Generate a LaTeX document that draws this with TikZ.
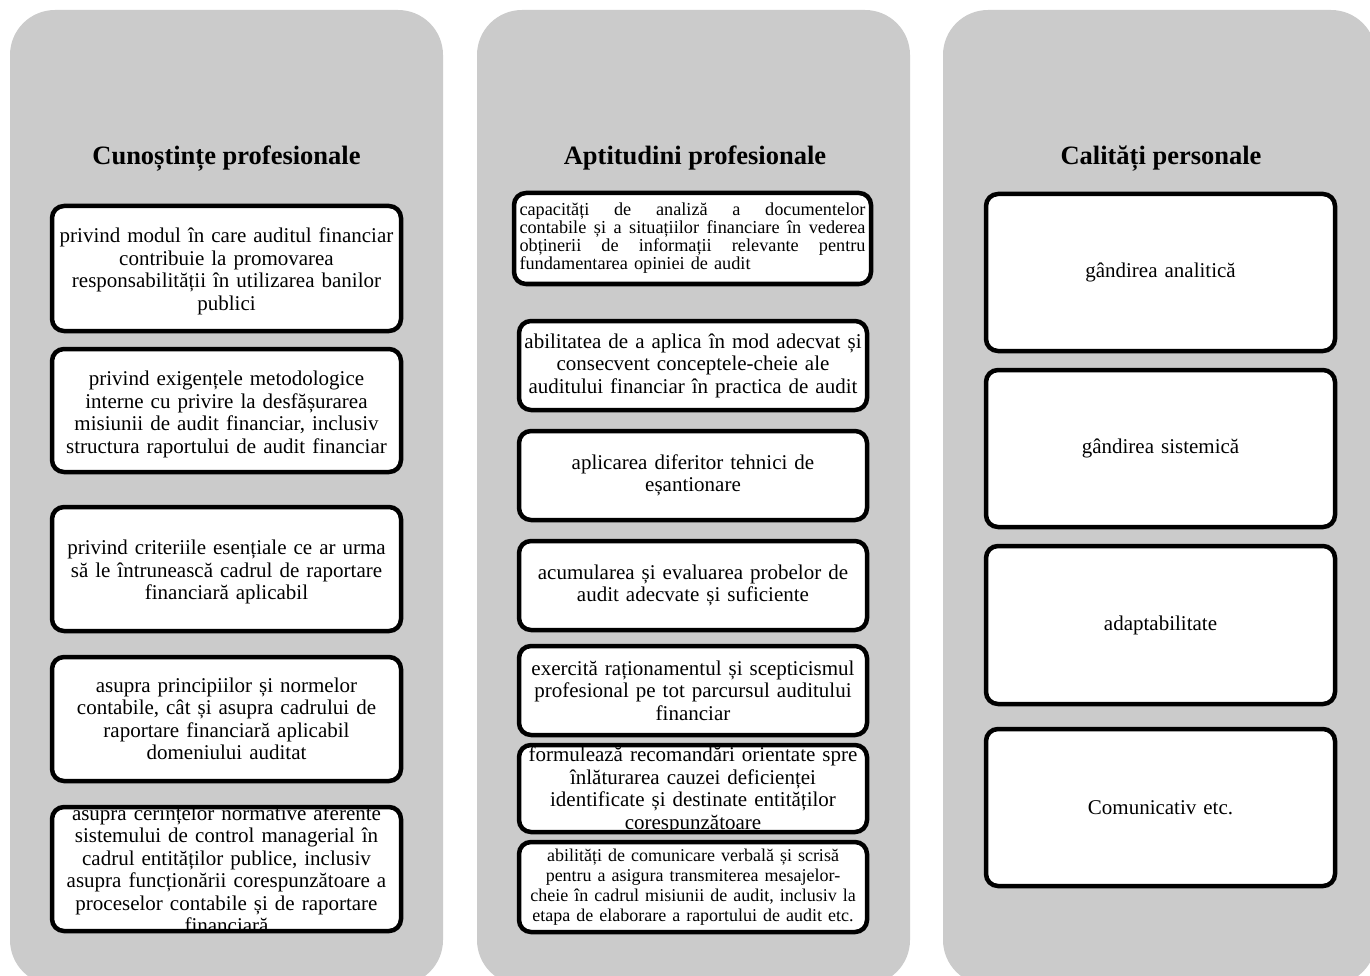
\documentclass[tikz,border=0pt]{standalone}
\usepackage{fontspec}
\setmainfont{Liberation Serif}
\definecolor{panelgray}{RGB}{203,203,203}
\tikzset{
  panel/.style={fill=panelgray, rounded corners=45pt},
  cellbg/.style={fill=white, inner sep=0pt, outer sep=0pt, rounded corners=12pt},
  cellline/.style={draw=black, line width=4.5pt, rounded corners=12pt},
  head/.style={font=\fontsize{26.5}{30}\selectfont\bfseries, anchor=base, inner sep=0pt},
  body/.style={font=\fontsize{21}{22.5}\selectfont, align=center, text width=390pt, inner sep=0pt},
  small/.style={font=\fontsize{18}{20}\selectfont, align=center, text width=390pt, inner sep=0pt},
  tight/.style={font=\fontsize{18.25}{18}\selectfont, align=left, text width=346pt, inner sep=0pt},
}
% #1 name, #2 centre, #3 width, #4 height, #5 text style, #6 text
\newcommand\Cell[6]{%
  \node[cellbg, minimum width=#3, minimum height=#4] (#1) at (#2) {};
  \node[#5] (#1t) at (#1) {#6};
  \draw[cellline] (#1.north west) rectangle (#1.south east);
}
% a fully justified line of the narrow paragraph
\newcommand\jline[1]{\leavevmode\hbox to 346pt{#1}}
\begin{document}
\begin{tikzpicture}[x=1pt,y=-1pt]
\useasboundingbox (0,0) rectangle (1370,976);
\clip (0,0) rectangle (1370,976);

% three grey columns
\path[panel] (10,10) rectangle (443,985);
\path[panel] (477,10) rectangle (910,985);
\path[panel] (943,10) rectangle (1376,985);

% column headings
\node[head] (h1) at (226.5,165) {Cunoștințe profesionale};
\node[head] (h2) at (695,165) {Aptitudini profesionale};
\node[head] (h3) at (1161,165) {Calități personale};

% first column
\Cell{k1}{226.5,268.5}{349pt}{125pt}{body, yshift=-3pt}{privind modul în care auditul financiar\\ contribuie la promovarea\\ responsabilității în utilizarea banilor\\ publici}
\Cell{k2}{226.5,410.5}{349pt}{123pt}{body, yshift=-4pt}{privind exigențele metodologice\\ interne cu privire la desfășurarea\\ misiunii de audit financiar, inclusiv\\ structura raportului de audit financiar}
\Cell{k3}{226.5,569}{349pt}{124pt}{body, yshift=-3pt}{privind criteriile esențiale ce ar urma\\ să le întrunească cadrul de raportare\\ financiară aplicabil}
\Cell{k4}{226.5,719}{349pt}{124pt}{body}{asupra principiilor și normelor\\ contabile, cât și asupra cadrului de\\ raportare financiară aplicabil\\ domeniului auditat}
\Cell{k5}{226.5,869}{349pt}{124pt}{body}{asupra cerințelor normative aferente\\ sistemului de control managerial în\\ cadrul entităților publice, inclusiv\\ asupra funcționării corespunzătoare a\\ proceselor contabile și de raportare\\ financiară}

% second column
\Cell{a1}{692.5,238.5}{357pt}{91pt}{tight}{\jline{capacități\hfill de\hfill analiză\hfill a\hfill documentelor}\\ \jline{contabile\hfill și\hfill a\hfill situațiilor\hfill financiare\hfill în\hfill vederea}\\ \jline{obținerii\hfill de\hfill informații\hfill relevante\hfill pentru}\\ fundamentarea opiniei de audit}
\Cell{a2}{693,365.5}{348pt}{89pt}{body}{abilitatea de a aplica în mod adecvat și\\ consecvent conceptele-cheie ale\\ auditului financiar în practica de audit}
\Cell{a3}{693,475.5}{348pt}{89pt}{body}{aplicarea diferitor tehnici de\\ eșantionare}
\Cell{a4}{693,585.5}{348pt}{89pt}{body}{acumularea și evaluarea probelor de\\ audit adecvate și suficiente}
\Cell{a5}{693,690.5}{348pt}{89pt}{body}{exercită raționamentul și scepticismul\\ profesional pe tot parcursul auditului\\ financiar}
\Cell{a6}{693,788.5}{348pt}{87pt}{body, yshift=-2pt}{formulează recomandări orientate spre\\ înlăturarea cauzei deficienței\\ identificate și destinate entităților\\ corespunzătoare}
\Cell{a7}{693,887}{348pt}{90pt}{small}{abilități de comunicare verbală și scrisă\\ pentru a asigura transmiterea mesajelor-\\ cheie în cadrul misiunii de audit, inclusiv la\\ etapa de elaborare a raportului de audit etc.}

% third column
\Cell{c1}{1160.5,272.5}{349pt}{157pt}{body}{gândirea analitică}
\Cell{c2}{1160.5,448.5}{349pt}{157pt}{body}{gândirea sistemică}
\Cell{c3}{1160.5,625}{349pt}{158pt}{body}{adaptabilitate}
\Cell{c4}{1160.5,807.5}{349pt}{157pt}{body}{Comunicativ etc.}
\end{tikzpicture}
\end{document}
